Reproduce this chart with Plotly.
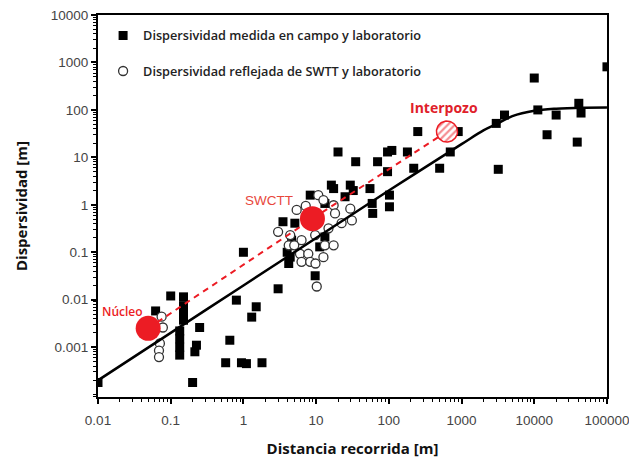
import numpy as np
import plotly.graph_objects as go

# ---- data ----
sq_x = [0.010, 0.062, 0.10, 0.15, 0.15, 0.15, 0.15, 0.133, 0.133, 0.133, 0.133,
        0.25, 0.226, 0.215, 0.20, 0.80, 1.5, 1.3, 0.65, 0.57, 0.94, 1.1, 1.8,
        1.0, 3.0, 3.5, 4.2, 4.4, 4.0, 4.6, 5.1, 9.7, 8.3, 13.2, 13.2, 11.2,
        16.2, 17.4, 29.5, 32.4, 25, 55, 59, 60, 20, 35, 70, 96, 110, 96, 102, 102,
        180, 220, 250, 500, 700, 900, 3000, 3900, 3200, 10000, 11200, 15000,
        20000, 39000, 41000, 44000, 100000]
sq_y = [0.00018, 0.0058, 0.012, 0.0115, 0.0075, 0.0050, 0.0037, 0.0022, 0.0015, 0.0010, 0.00068,
        0.0026, 0.0011, 0.00080, 0.00018, 0.0098, 0.0071, 0.0043, 0.0014, 0.00047, 0.00047, 0.00045, 0.00047,
        0.10, 0.017, 0.44, 0.058, 0.079, 0.10, 0.18, 0.41, 0.032, 1.6, 1.07, 0.21, 0.13,
        2.6, 2.2, 2.6, 2.0, 1.48, 2.2, 1.07, 0.66, 13, 8.1, 8.1, 13, 14, 5.0, 1.6, 0.91,
        13, 5.9, 35, 5.9, 13, 35, 52, 78, 5.6, 470, 100, 30,
        78, 21, 138, 86, 810]

ci_x = [0.075, 0.078, 0.071, 0.069, 0.069,
        3.0, 4.4, 4.2, 6.0, 7.8, 6.3, 8.3, 10.2, 13.2, 17.4, 10.7, 12.6, 17.4, 18.2,
        29.5, 31, 22.4, 14.8, 6.3, 9.7, 5.4, 12.6, 7.2, 9.8, 5.0]
ci_y = [0.0044, 0.0026, 0.0012, 0.00085, 0.00062,
        0.27, 0.23, 0.14, 0.093, 0.093, 0.063, 0.063, 0.019, 0.14, 0.14, 1.6, 1.26, 0.98, 0.66,
        0.83, 0.47, 0.41, 0.32, 0.18, 0.23, 0.78, 0.079, 0.95, 0.058, 0.14]

fit_x = [0.01, 0.1, 1, 10, 100, 1000, 2000, 3000, 5000, 10000, 20000, 50000, 100000]
fit_y = [0.0002, 0.002, 0.02, 0.2, 2, 19, 37, 50, 74, 96, 106, 111, 112]

scale_names = ["Núcleo", "SWCTT", "Interpozo"]
scale_x = [0.049, 8.9, 630]
scale_y = [0.0025, 0.51, 35]

xtick_vals = [0.01, 0.1, 1, 10, 100, 1000, 10000, 100000]
xtick_text = ["0.01", "0.1", "1", "10", "100", "1000", "10000", "100000"]
ytick_vals = [0.001, 0.01, 0.1, 1, 10, 100, 1000, 10000]
ytick_text = ["0.001", "0.01", "0.1", "1", "10", "100", "1000", "10000"]

legend_names = ["Dispersividad medida en campo y laboratorio",
                "Dispersividad reflejada de SWTT y laboratorio"]

RED = "#ec1c24"
XR = [-2, 5.0005]
YR = [-4.05, 4.0005]
PLOT_W, PLOT_H = 509, 382

fig = go.Figure()

fig.add_trace(go.Scatter(x=sq_x, y=sq_y, mode="markers", name=legend_names[0],
                         legendgroup="a",
                         marker=dict(symbol="square", size=9, color="black")))
fig.add_trace(go.Scatter(x=ci_x, y=ci_y, mode="markers", name=legend_names[1],
                         legendgroup="b",
                         marker=dict(symbol="circle", size=9, color="white",
                                     line=dict(color="#333333", width=1.3))))
fig.add_trace(go.Scatter(x=fit_x, y=fit_y, mode="lines", showlegend=False,
                         line=dict(color="black", width=2.5, shape="spline", smoothing=1.0)))
fig.add_trace(go.Scatter(x=scale_x, y=scale_y, mode="lines", showlegend=False,
                         line=dict(color=RED, width=2, dash="6px,5px")))
# solid red circles (core, SWCTT)
fig.add_trace(go.Scatter(x=scale_x[:2], y=scale_y[:2], mode="markers", showlegend=False,
                         marker=dict(symbol="circle", size=25, color=RED)))
# hatched interwell circle (built around its data centre, in log space)
r_px = 10.5
rx = r_px * (XR[1] - XR[0]) / PLOT_W
ry = r_px * (YR[1] - YR[0]) / PLOT_H
t = np.linspace(0, 2 * np.pi, 73)
cx, cy = np.log10(scale_x[2]), np.log10(scale_y[2])
fig.add_trace(go.Scatter(x=10 ** (cx + rx * np.cos(t)), y=10 ** (cy + ry * np.sin(t)),
                         mode="lines", fill="toself", showlegend=False,
                         fillcolor="white",
                         fillpattern=dict(shape="/", fgcolor=RED, bgcolor="white",
                                          size=5, solidity=0.45),
                         line=dict(color=RED, width=1.5)))

# labels
fig.add_annotation(x=np.log10(0.0219), y=np.log10(0.00578), text=scale_names[0], showarrow=False,
                   font=dict(family="Open Sans", size=12, color=RED, weight=600))
fig.add_annotation(x=np.log10(2.28), y=np.log10(1.25), text=scale_names[1], showarrow=False,
                   font=dict(family="Liberation Sans", size=13.5, color="#e8473c"))
fig.add_annotation(x=np.log10(571), y=np.log10(113), text=scale_names[2], showarrow=False,
                   font=dict(family="Open Sans", size=14, color="#e0202a", weight=700))

axis_common = dict(type="log", showgrid=False, zeroline=False, showline=True,
                   linecolor="black", linewidth=2, mirror=True, automargin=False,
                   ticks="outside", ticklen=5, tickwidth=1.5, tickcolor="black",
                   tickmode="array", ticklabeloverflow="allow",
                   tickfont=dict(family="Liberation Sans", size=13.5, color="#444444"),
                   minor=dict(ticks="outside", ticklen=3, tickwidth=1, tickcolor="black",
                              dtick="D1", showgrid=False))

fig.update_xaxes(range=XR, tickvals=xtick_vals, ticktext=xtick_text, ticklabelstandoff=5,
                 title=dict(text="Distancia recorrida [m]", standoff=20,
                            font=dict(family="Open Sans", size=15, color="#111111", weight=700)),
                 **axis_common)
fig.update_yaxes(range=YR, tickvals=ytick_vals, ticktext=ytick_text,
                 title=dict(text="Dispersividad [m]", standoff=20,
                            font=dict(family="Open Sans", size=15, color="#111111", weight=700)),
                 **axis_common)

fig.update_layout(
    width=629, height=458,
    margin=dict(l=98, r=22, t=15, b=61),
    plot_bgcolor="white", paper_bgcolor="white",
    legend=dict(x=0.01, y=0.985, xanchor="left", yanchor="top",
                bgcolor="rgba(0,0,0,0)", tracegroupgap=16, traceorder="grouped",
                font=dict(family="Open Sans", size=12.7, color="#222222", weight=600)),
)

fig.write_html("out.html")
